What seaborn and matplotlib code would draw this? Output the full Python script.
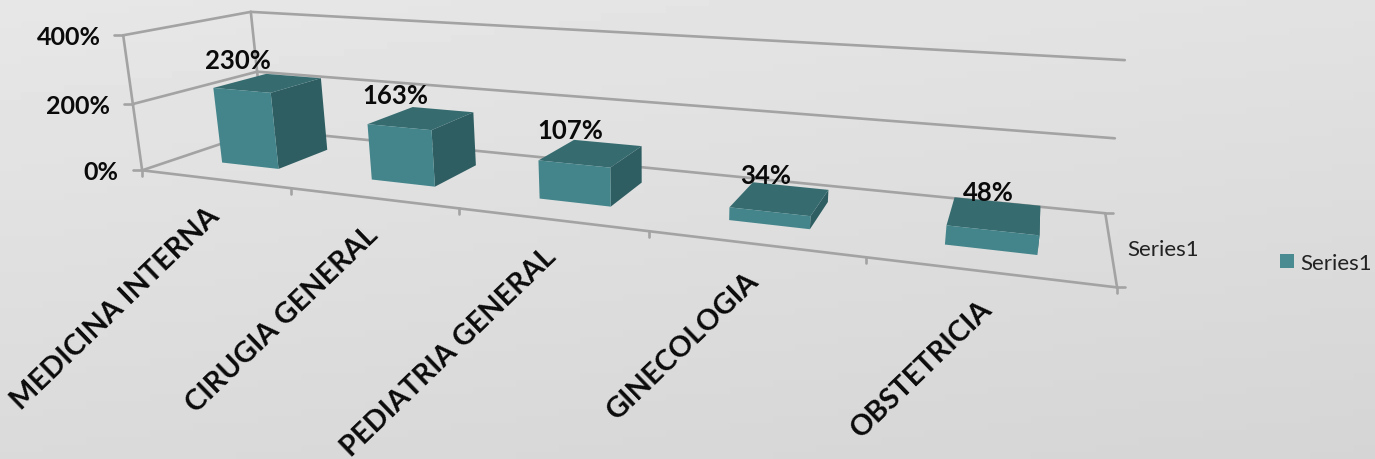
import numpy as np
import matplotlib
matplotlib.use("Agg")
import matplotlib.pyplot as plt
import seaborn as sns
from matplotlib.patches import Polygon, Patch
from matplotlib.path import Path
from matplotlib.transforms import Transform, Affine2D

categories = ["MEDICINA INTERNA", "CIRUGIA GENERAL", "PEDIATRIA GENERAL", "GINECOLOGIA", "OBSTETRICIA"]
values = [230, 163, 107, 34, 48]
value_ticks = [0, 200, 400]
series_name = "Series1"

W, H = 1375, 460
FRONT, TOP, SIDE = "#44858b", "#366c70", "#2f5e62"
LINE = "#a3a3a3"
FONT = "Lato"
VMAX = 400.0
BAR_WIDTH, D0, D1 = 0.39, 0.28, 0.72

# Camera calibration: (category position, depth, value share) -> reference pixel
calib = np.array([
    [0, 0, 0, 141, 172], [1, 0, 0, 291, 190], [2, 0, 0, 458, 210], [3, 0, 0, 649, 232],
    [4, 0, 0, 867, 258], [5, 0, 0, 1117, 288], [0, 1, 0, 265, 131], [5, 1, 0, 1105, 213],
    [0, 0, .5, 133, 104], [0, 0, 1, 125, 36], [0, 1, .5, 257, 72], [5, 1, .5, 1115, 140],
    [0, 1, 1, 249, 13], [5, 1, 1, 1125, 62]], float)
rows = []
for u, d, v, px, py in calib:
    rows.append([u, d, v, 1, 0, 0, 0, 0, -px*u, -px*d, -px*v, -px])
    rows.append([0, 0, 0, 0, u, d, v, 1, -py*u, -py*d, -py*v, -py])
CAM = np.linalg.svd(np.array(rows))[2][-1].reshape(3, 4)


def project(u, d, value):
    p = CAM @ np.array([u, d, value / VMAX, 1.0])
    return p[:2] / p[2]


class PlaneProjection(Transform):
    """Bar-axis data (category, value) on a constant-depth plane -> pixels."""
    input_dims = output_dims = 2
    is_affine = False
    has_inverse = False

    def __init__(self, plane):
        super().__init__()
        self.plane = plane

    def transform_non_affine(self, xy):
        xy = np.asarray(xy, float)
        return np.array([project(x + .5, self.plane, y) for x, y in xy])

    def transform_path_non_affine(self, path):
        return Path(self.transform_non_affine(path.vertices), path.codes)


sns.set_theme(style="white")
plt.rcParams["font.family"] = [FONT, "DejaVu Sans"]
fig = plt.figure(figsize=(W / 100, H / 100), dpi=100)

canvas = fig.add_axes([0, 0, 1, 1], zorder=1)
canvas.set_xlim(0, W)
canvas.set_ylim(H, 0)
canvas.axis("off")
yy, xx = np.mgrid[0:1:64j, 0:1:64j]
canvas.imshow(0.905 - 0.05 * yy - 0.02 * xx, cmap="gray", vmin=0, vmax=1,
              extent=[0, W, H, 0], aspect="auto", zorder=0)


def seg(a, b):
    canvas.plot([a[0], b[0]], [a[1], b[1]], color=LINE, lw=1.9, solid_capstyle="round")


for t in value_ticks:
    seg(project(0, 0, t), project(0, 1, t))
    seg(project(0, 1, t), project(5, 1, t))
    a = project(0, 0, t)
    seg(a, a + [-9, 0])
    canvas.text(a[0] - 24 + 2 * t / VMAX, a[1] + 1, f"{t}%", ha="right", va="center",
                fontsize=18, fontweight="bold", color="#0a0a0a")
seg(project(0, 0, 0), project(0, 0, VMAX))
seg(project(0, 1, 0), project(0, 1, VMAX))
seg(project(0, 0, 0), project(5, 0, 0))
seg(project(5, 0, 0), project(5, 1, 0))
for i in range(6):
    a = project(i, 0, 0)
    seg(a, a + [0, 6])
for d in (0, 1):
    a = project(5, d, 0)
    seg(a, a + [8, 0])
m = project(5, .5, 0)
canvas.text(m[0] + 17, m[1] + 2, series_name, ha="left", va="center", fontsize=16, color="#222222")

bars = fig.add_axes([0, 0, 1, 1], zorder=2)
bars.patch.set_alpha(0)
sns.barplot(x=categories, y=values, color=FRONT, saturation=1, width=BAR_WIDTH, ax=bars, linewidth=0)
bars.axis("off")
to_pixels = canvas.transData
face_tf = PlaneProjection(D0) + to_pixels

for i, (patch, name, val) in enumerate(zip(list(bars.patches), categories, values)):
    x0, x1 = patch.get_x(), patch.get_x() + patch.get_width()
    v = patch.get_height()
    side = [project(x1 + .5, D0, 0), project(x1 + .5, D1, 0), project(x1 + .5, D1, v), project(x1 + .5, D0, v)]
    top = [project(x0 + .5, D0, v), project(x1 + .5, D0, v), project(x1 + .5, D1, v), project(x0 + .5, D1, v)]
    bars.add_patch(Polygon(side, closed=True, fc=SIDE, ec="none", transform=to_pixels, zorder=1, clip_on=False))
    bars.add_patch(Polygon(top, closed=True, fc=TOP, ec="none", transform=to_pixels, zorder=1.5, clip_on=False))
    patch.set_transform(face_tf)
    patch.set_clip_on(False)
    patch.set_zorder(2)
    px_ = project(i + .5, D0, v)[0]
    py_ = project(i + .5, (D0 + D1) / 2, v)[1]
    bars.text(px_ - 4, py_ - 23, f"{val}%", ha="center", va="center", fontsize=18.5,
              fontweight="bold", color="#0a0a0a", transform=to_pixels, zorder=5)
    b = project(i + .5, 0, 0)
    bars.text(b[0] + 1, b[1] + 32, name, rotation=44, rotation_mode="anchor", ha="right", va="center",
              fontsize=20.8, fontweight="bold", color="#0a0a0a", transform=to_pixels, zorder=5)

leg = bars.legend(handles=[Patch(fc="#4a8b91", ec="none", label=series_name)], frameon=False,
                  loc="center right", bbox_to_anchor=(1372, H - 264), bbox_transform=Affine2D(),
                  prop={"size": 16, "family": FONT}, handlelength=0.63, handleheight=0.63,
                  handletextpad=0.27, borderpad=0, borderaxespad=0)
for t in leg.get_texts():
    t.set_color("#222222")

fig.savefig("out.png", dpi=100)
